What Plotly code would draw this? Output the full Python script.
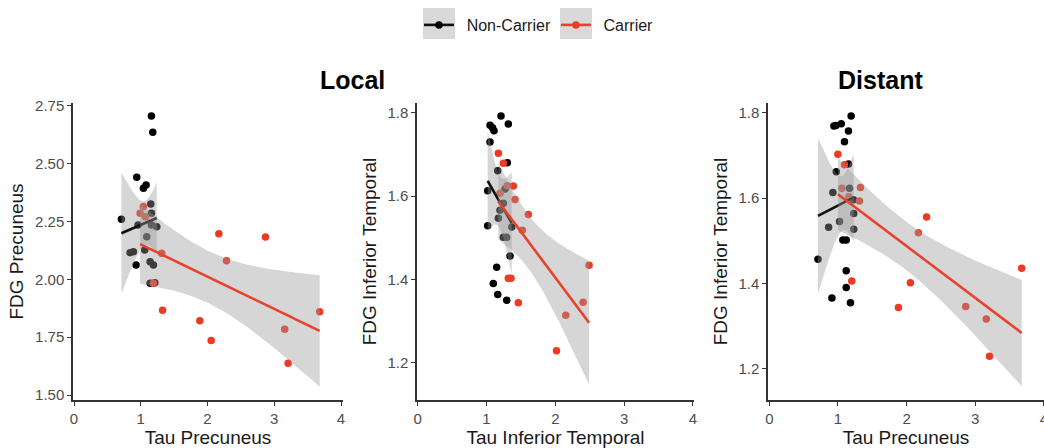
import numpy as np
import plotly.graph_objects as go

# ---------------- data ----------------
# Local: Tau Precuneus vs FDG Precuneus
prec_nc_tau = [1.16, 1.18, 0.94, 1.04, 1.08, 1.15, 0.71, 1.16, 0.96, 1.24,
               1.16, 1.09, 0.84, 0.89, 1.06, 1.14, 1.19, 0.93, 1.14, 1.21]
prec_nc_fdg = [2.705, 2.635, 2.441, 2.393, 2.407, 2.325, 2.259, 2.285, 2.235, 2.227,
               2.235, 2.184, 2.115, 2.119, 2.127, 2.076, 2.062, 2.062, 1.983, 1.985]
prec_c_tau = [1.039, 0.99, 1.07, 1.314, 1.189, 1.327, 1.885, 2.055, 2.170, 2.284,
              2.868, 3.157, 3.207, 3.681]
prec_c_fdg = [2.314, 2.285, 2.27, 2.112, 1.983, 1.866, 1.821, 1.735, 2.197, 2.080,
              2.183, 1.784, 1.637, 1.860]

# Local: Tau Inferior Temporal vs FDG Inferior Temporal
it_nc_tau = [1.211, 1.051, 1.088, 1.109, 1.317, 1.051, 1.302, 1.163, 1.017, 1.27, 1.245,
             1.196, 1.172, 1.017, 1.366, 1.245, 1.294, 1.342, 1.148, 1.099, 1.163, 1.294]
it_nc_fdg = [1.792, 1.770, 1.764, 1.757, 1.773, 1.730, 1.680, 1.661, 1.613, 1.617, 1.583,
             1.566, 1.547, 1.529, 1.526, 1.501, 1.501, 1.456, 1.429, 1.390, 1.364, 1.350]
it_c_tau = [1.172, 1.245, 1.30, 1.390, 1.196, 1.414, 1.608, 1.521, 1.317, 1.356,
            1.462, 2.017, 2.152, 2.404, 2.491]
it_c_fdg = [1.703, 1.679, 1.625, 1.624, 1.607, 1.592, 1.556, 1.518, 1.403, 1.403,
            1.344, 1.229, 1.314, 1.345, 1.434]

# Distant: Tau Precuneus vs FDG Inferior Temporal
dist_nc_tau = [1.192, 0.941, 0.97, 1.048, 1.153, 1.095, 1.153, 0.975, 0.926, 1.168, 1.225,
               1.23, 1.023, 0.864, 1.23, 1.071, 1.12, 0.709, 1.12, 1.12, 0.912, 1.182]
dist_nc_fdg = [1.792, 1.769, 1.770, 1.774, 1.757, 1.732, 1.680, 1.662, 1.613, 1.623, 1.596,
               1.564, 1.545, 1.532, 1.527, 1.502, 1.502, 1.457, 1.430, 1.391, 1.366, 1.355]
dist_c_tau = [0.999, 1.095, 1.056, 1.327, 1.158, 1.313, 1.201, 1.881, 2.055, 2.171,
              2.291, 2.861, 3.160, 3.208, 3.676]
dist_c_fdg = [1.703, 1.678, 1.623, 1.625, 1.603, 1.593, 1.406, 1.344, 1.402, 1.519,
              1.556, 1.346, 1.317, 1.230, 1.436]

groups = ["Non-Carrier", "Carrier"]
x_ticks = [0, 1, 2, 3, 4]
prec_y_ticks = [1.50, 1.75, 2.00, 2.25, 2.50, 2.75]
prec_y_labels = ["1.50", "1.75", "2.00", "2.25", "2.50", "2.75"]
it_y_ticks = [1.2, 1.4, 1.6, 1.8]
it_y_labels = ["1.2", "1.4", "1.6", "1.8"]
panel_titles = ["Local", "Distant"]

# ---------------- styling ----------------
FONT = "Liberation Sans, Arial, sans-serif"
COLORS = {"Non-Carrier": "#000000", "Carrier": "#EE3A24"}
LINE_COLORS = {"Non-Carrier": "#111111", "Carrier": "#E8412C"}
RIBBON = "rgba(153,153,153,0.4)"
AXIS_COLOR = "#333333"
KEY_PAD = "\u00a0\u2009"  # small gap between legend key and its label

W, H = 1044, 448
ML, MR, MT, MB = 73, 0, 103, 48
PW, PH = W - ML - MR, H - MT - MB


def px_x(p):
    return (p - ML) / PW


def px_y(p):
    return (H - MB - p) / PH


def t975(df):
    # Cornish-Fisher expansion of the Student t quantile at 0.975
    z = 1.959963985
    g1 = (z**3 + z) / 4
    g2 = (5 * z**5 + 16 * z**3 + 3 * z) / 96
    g3 = (3 * z**7 + 19 * z**5 + 17 * z**3 - 15 * z) / 384
    g4 = (79 * z**9 + 776 * z**7 + 1482 * z**5 - 1920 * z**3 - 945 * z) / 92160
    return z + g1 / df + g2 / df**2 + g3 / df**3 + g4 / df**4


def lm_smooth(x, y, n=80):
    x = np.asarray(x, float)
    y = np.asarray(y, float)
    k = len(x)
    xb, yb = x.mean(), y.mean()
    sxx = ((x - xb) ** 2).sum()
    slope = ((x - xb) * (y - yb)).sum() / sxx
    icpt = yb - slope * xb
    resid = y - (icpt + slope * x)
    s = np.sqrt((resid ** 2).sum() / (k - 2))
    grid = np.linspace(x.min(), x.max(), n)
    fit = icpt + slope * grid
    se = s * np.sqrt(1.0 / k + (grid - xb) ** 2 / sxx)
    hw = t975(k - 2) * se
    return grid, fit, fit - hw, fit + hw


panels = [
    dict(nc=(prec_nc_tau, prec_nc_fdg), c=(prec_c_tau, prec_c_fdg),
         xtitle="Tau Precuneus", ytitle="FDG Precuneus",
         xdom=(px_x(73), px_x(343)), xr=(-0.015, 4.03), yr=(1.4784, 2.7617),
         yt=(prec_y_ticks, prec_y_labels)),
    dict(nc=(it_nc_tau, it_nc_fdg), c=(it_c_tau, it_c_fdg),
         xtitle="Tau Inferior Temporal", ytitle="FDG Inferior Temporal",
         xdom=(px_x(417), px_x(694)), xr=(-0.01, 4.015), yr=(1.1105, 1.8233),
         yt=(it_y_ticks, it_y_labels)),
    dict(nc=(dist_nc_tau, dist_nc_fdg), c=(dist_c_tau, dist_c_fdg),
         xtitle="Tau Precuneus", ytitle="FDG Inferior Temporal",
         xdom=(px_x(768), 1.0), xr=(-0.019, 4.001), yr=(1.1274, 1.8227),
         yt=(it_y_ticks, it_y_labels)),
]

fig = go.Figure()

for i, p in enumerate(panels, start=1):
    xa = "x" if i == 1 else f"x{i}"
    ya = "y" if i == 1 else f"y{i}"
    data = {"Non-Carrier": p["nc"], "Carrier": p["c"]}
    # points
    for g in groups:
        xs, ys = data[g]
        fig.add_trace(go.Scatter(
            x=xs, y=ys, mode="markers", xaxis=xa, yaxis=ya, showlegend=False,
            marker=dict(size=7.5, color=COLORS[g], line=dict(width=0)),
            hoverinfo="skip"))
    # linear fits with 95% confidence band
    for g in groups:
        xs, ys = data[g]
        gx, fit, lo, hi = lm_smooth(xs, ys)
        fig.add_trace(go.Scatter(
            x=np.concatenate([gx, gx[::-1]]), y=np.concatenate([hi, lo[::-1]]),
            mode="lines", fill="toself", fillcolor=RIBBON, line=dict(width=0),
            xaxis=xa, yaxis=ya, showlegend=False, hoverinfo="skip"))
        fig.add_trace(go.Scatter(
            x=gx, y=fit, mode="lines", xaxis=xa, yaxis=ya, showlegend=False,
            line=dict(color=LINE_COLORS[g], width=2.6), hoverinfo="skip"))

    axis_common = dict(showgrid=False, zeroline=False, showline=True,
                       linecolor=AXIS_COLOR, linewidth=1.5, ticks="outside",
                       ticklen=4, tickwidth=1.3, tickcolor=AXIS_COLOR,
                       tickfont=dict(family=FONT, size=15, color="#4D4D4D"))
    fig.update_layout(**{
        ("xaxis" if i == 1 else f"xaxis{i}"): dict(
            domain=list(p["xdom"]), range=list(p["xr"]), tickvals=x_ticks,
            anchor=ya, ticklabeloverflow="allow",
            title=dict(text=p["xtitle"], standoff=6,
                       font=dict(family=FONT, size=19, color="#1A1A1A")),
            **axis_common),
        ("yaxis" if i == 1 else f"yaxis{i}"): dict(
            domain=[0, 1], range=list(p["yr"]), tickvals=p["yt"][0],
            ticktext=p["yt"][1], anchor=xa,
            title=dict(text=p["ytitle"], standoff=6,
                       font=dict(family=FONT, size=19, color="#1A1A1A")),
            **axis_common),
    })

# legend entries (line + point, as in the key)
for g in groups:
    fig.add_trace(go.Scatter(
        x=[None], y=[None], mode="lines+markers", name=KEY_PAD + g,
        line=dict(color=LINE_COLORS[g], width=2.6),
        marker=dict(size=7.5, color=COLORS[g])))

# grey key backgrounds behind legend symbols
for cx in (439, 576):
    fig.add_shape(type="rect", xref="paper", yref="paper",
                  x0=px_x(cx - 16), x1=px_x(cx + 16), y0=px_y(39), y1=px_y(8),
                  fillcolor="#D9D9D9", line=dict(width=0), layer="below")

for title, cx in zip(panel_titles, (352, 880)):
    fig.add_annotation(text=f"<b>{title}</b>", xref="paper", yref="paper",
                       x=px_x(cx), y=px_y(80), showarrow=False,
                       xanchor="center", yanchor="middle",
                       font=dict(family=FONT, size=25, color="#000000"))

fig.update_layout(
    width=W, height=H,
    margin=dict(l=ML, r=MR, t=MT, b=MB, autoexpand=False),
    paper_bgcolor="white", plot_bgcolor="white",
    showlegend=True,
    legend=dict(orientation="h", x=px_x(419), y=px_y(8), xanchor="left",
                yanchor="top", font=dict(family=FONT, size=16, color="#1A1A1A"),
                itemwidth=30, bgcolor="rgba(0,0,0,0)", traceorder="normal"),
)

fig.write_html("out.html")
